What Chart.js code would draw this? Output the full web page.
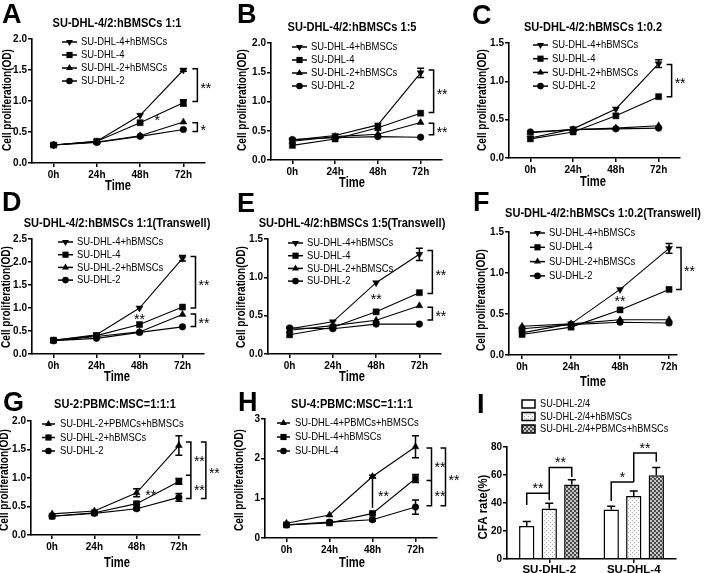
<!DOCTYPE html>
<html>
<head>
<meta charset="utf-8">
<script src="https://cdn.jsdelivr.net/npm/chart.js@4.4.0/dist/chart.umd.min.js"></script>
<style>
  html, body { margin: 0; padding: 0; background: #fff; }
  #wrap { position: relative; width: 709px; height: 573px; overflow: hidden; }
  #wrap canvas { position: absolute; left: 0; top: 0; }
</style>
</head>
<body>
<div id="wrap"></div>
<script>
// ---- data ----
const hours = [0, 24, 48, 72];
const timeLabels = ['0h', '24h', '48h', '72h'];
const names4 = ['SU-DHL-4+hBMSCs', 'SU-DHL-4', 'SU-DHL-2+hBMSCs', 'SU-DHL-2'];
const namesG = ['SU-DHL-2+PBMCs+hBMSCs', 'SU-DHL-2+hBMSCs', 'SU-DHL-2'];
const namesH = ['SU-DHL-4+PBMCs+hBMSCs', 'SU-DHL-4+hBMSCs', 'SU-DHL-4'];

const yTicks2 = [0, 0.5, 1.0, 1.5, 2.0];
const yTicks15 = [0, 0.5, 1.0, 1.5];
const yTicks25 = [0, 0.5, 1.0, 1.5, 2.0, 2.5];
const yTicks3 = [0, 1, 2, 3];
const yTicksCfa = [0, 20, 40, 60, 80];

// A  SU-DHL-4/2:hBMSCs 1:1
const a_dhl4b = [0.29, 0.35, 0.77, 1.50];
const a_dhl4 = [0.29, 0.35, 0.65, 0.97];
const a_dhl2b = [0.29, 0.34, 0.44, 0.66];
const a_dhl2 = [0.29, 0.33, 0.43, 0.54];
const a_err4b = [0, 0, 0, 0.02];
const a_err4 = [0, 0, 0, 0.05];

// B  1:5
const b_dhl4b = [0.34, 0.42, 0.60, 1.49];
const b_dhl4 = [0.25, 0.36, 0.55, 0.80];
const b_dhl2b = [0.32, 0.40, 0.44, 0.64];
const b_dhl2 = [0.35, 0.38, 0.40, 0.39];
const b_err4b = [0, 0, 0, 0.08];

// C  1:0.2
const c_dhl4b = [0.26, 0.38, 0.64, 1.23];
const c_dhl4 = [0.25, 0.34, 0.55, 0.80];
const c_dhl2b = [0.33, 0.37, 0.39, 0.42];
const c_dhl2 = [0.34, 0.37, 0.38, 0.39];
const c_err4b = [0, 0, 0, 0.05];

// D  1:1 (Transwell)
const d_dhl4b = [0.30, 0.42, 1.00, 2.08];
const d_dhl4 = [0.30, 0.40, 0.64, 1.02];
const d_dhl2b = [0.29, 0.38, 0.48, 0.86];
const d_dhl2 = [0.29, 0.34, 0.47, 0.59];
const d_err4b = [0, 0, 0, 0.06];

// E  1:5 (Transwell)
const e_dhl4b = [0.33, 0.42, 0.93, 1.30];
const e_dhl4 = [0.25, 0.35, 0.55, 0.80];
const e_dhl2b = [0.31, 0.37, 0.44, 0.63];
const e_dhl2 = [0.34, 0.33, 0.39, 0.39];
const e_err4b = [0, 0, 0, 0.08];

// F  1:0.2 (Transwell)
const f_dhl4b = [0.27, 0.38, 0.80, 1.30];
const f_dhl4 = [0.25, 0.34, 0.55, 0.80];
const f_dhl2b = [0.35, 0.38, 0.43, 0.43];
const f_dhl2 = [0.32, 0.37, 0.40, 0.39];
const f_err4b = [0, 0, 0, 0.06];

// G  SU-2:PBMC:MSC=1:1:1
const g_tri = [0.37, 0.42, 0.74, 1.57];
const g_msc = [0.33, 0.39, 0.55, 0.94];
const g_base = [0.33, 0.38, 0.46, 0.66];
const g_errTri = [0, 0, 0.07, 0.17];
const g_errMsc = [0, 0, 0.02, 0.05];
const g_errBase = [0, 0, 0.02, 0.07];

// H  SU-4:PBMC:MSC=1:1:1
const h_tri = [0.37, 0.58, 1.55, 2.30];
const h_msc = [0.33, 0.38, 0.62, 1.50];
const h_base = [0.33, 0.40, 0.46, 0.78];
const h_errTri = [0, 0, 0.03, 0.28];
const h_errMsc = [0, 0, 0.03, 0.10];
const h_errBase = [0, 0, 0.03, 0.18];

// I  CFA rate
const cfaGroups = ['SU-DHL-2', 'SU-DHL-4'];
const cfaNames = ['SU-DHL-2/4', 'SU-DHL-2/4+hBMSCs', 'SU-DHL-2/4+PBMCs+hBMSCs'];
const cfaBase = [23.6, 35.3];
const cfaMsc = [36.0, 45.0];
const cfaTri = [53.2, 59.8];
const cfaBaseErr = [3.2, 2.4];
const cfaMscErr = [3.8, 3.6];
const cfaTriErr = [3.4, 5.5];

// ---- helpers ----
const wrap = document.getElementById('wrap');
const FONT = '"Liberation Sans", Arial, Helvetica, sans-serif';

function txt(ctx, s, x, y, o) {
  o = o || {};
  ctx.save();
  ctx.translate(x, y);
  if (o.rot) ctx.rotate(o.rot);
  ctx.scale(o.sx || 1, 1);
  ctx.font = (o.bold ? 'bold ' : '') + (o.size || 11) + 'px ' + FONT;
  ctx.textAlign = o.align || 'center';
  ctx.textBaseline = o.base || 'middle';
  ctx.fillStyle = '#000';
  ctx.fillText(s, 0, 0);
  ctx.restore();
}

function drawMark(ctx, kind, x, y, r) {
  ctx.beginPath();
  if (kind === 'circle') {
    ctx.arc(x, y, r, 0, Math.PI * 2);
  } else if (kind === 'rect') {
    const h = r * 0.72;
    ctx.rect(x - h, y - h, 2 * h, 2 * h);
  } else {
    const s = kind === 'down' ? -1 : 1;
    ctx.moveTo(x, y - s * r);
    ctx.lineTo(x + r * 0.87, y + s * r * 0.5);
    ctx.lineTo(x - r * 0.87, y + s * r * 0.5);
    ctx.closePath();
  }
  ctx.fill();
}

function newCanvas() {
  const c = document.createElement('canvas');
  c.width = 709;
  c.height = 573;
  wrap.appendChild(c);
  return c;
}

function axisStyle() {
  return {
    grid: { drawOnChartArea: false, drawTicks: true, tickLength: 4, color: '#000', lineWidth: 1.5, offset: false },
    border: { color: '#000', width: 1.6 },
  };
}

const tickFont = { family: FONT, size: 10, weight: 'bold' };

// marker kinds: [chart pointStyle, rotation, radius, legend kind]
const marks4 = [['triangle', 180, 4, 'down'], ['rect', 0, 4.3, 'rect'], ['triangle', 0, 4, 'up'], ['circle', 0, 3.3, 'circle']];
const marks3 = [['triangle', 0, 4, 'up'], ['rect', 0, 4.3, 'rect'], ['circle', 0, 3.3, 'circle']];

function decoPlugin(p) {
  return {
    id: 'deco',
    afterDatasetsDraw(chart) {
      const ctx = chart.ctx, xs = chart.scales.x, ys = chart.scales.y;
      ctx.save();
      ctx.strokeStyle = '#000';
      ctx.fillStyle = '#000';
      ctx.lineWidth = 1.5;

      // error bars
      p.series.forEach((d, i) => {
        const err = p.errs[i];
        if (!err) return;
        const meta = chart.getDatasetMeta(i);
        err.forEach((e, k) => {
          if (!e) return;
          const x = meta.data[k].x;
          const y1 = ys.getPixelForValue(d[k] + e), y2 = ys.getPixelForValue(d[k] - e);
          ctx.beginPath();
          ctx.moveTo(x, y1); ctx.lineTo(x, y2);
          ctx.moveTo(x - 3.5, y1); ctx.lineTo(x + 3.5, y1);
          ctx.moveTo(x - 3.5, y2); ctx.lineTo(x + 3.5, y2);
          ctx.stroke();
        });
      });

      // brackets right of the last time point
      const xEnd = xs.getPixelForValue(hours[hours.length - 1]);
      (p.brackets || []).forEach(b => {
        const x = xEnd + b.dx;
        const yH = ys.getPixelForValue(b.hi), yL = ys.getPixelForValue(b.lo);
        ctx.beginPath();
        ctx.moveTo(x - 5, yH); ctx.lineTo(x, yH); ctx.lineTo(x, yL); ctx.lineTo(x - 5, yL);
        if (b.mid != null) {
          const yM = ys.getPixelForValue(b.mid);
          ctx.moveTo(x - 5, yM); ctx.lineTo(x, yM);
          ctx.stroke();
          txt(ctx, b.text, x + 3, (yH + yM) / 2 + 4, { size: 14, align: 'left' });
          txt(ctx, b.text, x + 3, (yM + yL) / 2 + 4, { size: 14, align: 'left' });
        } else {
          ctx.stroke();
          txt(ctx, b.text, x + 3, (yH + yL) / 2 + 4, { size: 14, align: 'left' });
        }
      });

      // notes near the 48h points
      (p.notes || []).forEach(n => {
        const x = xs.getPixelForValue(n.x) + n.dx, y = ys.getPixelForValue(n.v);
        if (n.line) {
          const y1 = ys.getPixelForValue(n.line[0]), y2 = ys.getPixelForValue(n.line[1]);
          ctx.beginPath();
          ctx.moveTo(xs.getPixelForValue(n.x), y1);
          ctx.lineTo(xs.getPixelForValue(n.x), y2);
          ctx.stroke();
        }
        txt(ctx, n.text, x, y + 4, { size: 14 });
      });

      // legend
      const lg = p.legend;
      p.names.forEach((name, i) => {
        const y = lg.y + i * lg.dy;
        ctx.beginPath();
        ctx.moveTo(lg.x, y); ctx.lineTo(lg.x + lg.len, y);
        ctx.stroke();
        drawMark(ctx, p.marks[i][3], lg.x + lg.len / 2, y, p.marks[i][2]);
        txt(ctx, name, lg.tx, y, { size: 11.5, sx: 0.82, align: 'left' });
      });

      // texts
      txt(ctx, p.letter, p.letterPos[0], p.letterPos[1], { size: 27, bold: true, align: 'left', base: 'alphabetic' });
      txt(ctx, p.title, p.titlePos[0], p.titlePos[1], { size: 13, bold: true, sx: 0.85 });
      txt(ctx, 'Cell proliferation(OD)', p.yTitlePos[0], p.yTitlePos[1], { size: 12, bold: true, sx: 0.84, rot: -Math.PI / 2 });
      txt(ctx, 'Time', p.xTitlePos[0], p.xTitlePos[1], { size: 14, bold: true, sx: 0.8 });
      ctx.restore();
    }
  };
}

function lineChart(p) {
  const canvas = newCanvas();
  const datasets = p.series.map((d, i) => ({
    label: p.names[i],
    data: d.map((v, k) => ({ x: hours[k], y: v })),
    borderColor: '#000',
    backgroundColor: '#000',
    borderWidth: 1.1,
    pointStyle: p.marks[i][0],
    rotation: p.marks[i][1],
    pointRadius: p.marks[i][2],
    pointBorderWidth: 0.5,
    tension: 0,
    clip: false,
  }));
  const AW = 30, AH = 22;
  new Chart(canvas, {
    type: 'line',
    data: { datasets },
    options: {
      responsive: false,
      animation: false,
      devicePixelRatio: 1,
      events: [],
      layout: { padding: { left: p.area[0] - AW, right: 709 - p.area[1], top: p.area[2], bottom: 573 - p.area[3] - AH } },
      plugins: { legend: { display: false }, title: { display: false }, tooltip: { enabled: false } },
      scales: {
        x: Object.assign(axisStyle(), {
          type: 'linear',
          min: p.xRange[0], max: p.xRange[1],
          afterBuildTicks: s => { s.ticks = hours.map(v => ({ value: v })); },
          afterFit: s => { s.height = AH; },
          ticks: { color: '#000', font: tickFont, padding: 2, maxRotation: 0, autoSkip: false,
                   callback: v => timeLabels[hours.indexOf(v)] },
        }),
        y: Object.assign(axisStyle(), {
          min: 0, max: p.yTicks[p.yTicks.length - 1],
          afterBuildTicks: s => { s.ticks = p.yTicks.map(v => ({ value: v })); },
          afterFit: s => { s.width = AW; },
          ticks: { color: '#000', font: tickFont, padding: 1, callback: v => v.toFixed(p.dec) },
        }),
      },
    },
    plugins: [decoPlugin(p)],
  });
}

// ---- panels A-H ----
lineChart({
  letter: 'A', letterPos: [2, 23], title: 'SU-DHL-4/2:hBMSCs 1:1', titlePos: [117, 23],
  yTitlePos: [8, 100], xTitlePos: [118, 186],
  area: [32, 205, 39, 163], xRange: [-12, 84], yTicks: yTicks2, dec: 1,
  names: names4, marks: marks4,
  series: [a_dhl4b, a_dhl4, a_dhl2b, a_dhl2], errs: [a_err4b, a_err4],
  legend: { x: 62, y: 42, dy: 13, len: 15, tx: 81 },
  brackets: [{ hi: 1.52, lo: 0.99, text: '**', dx: 14 }, { hi: 0.65, lo: 0.51, text: '*', dx: 14 }],
  notes: [{ x: 48, v: 0.74, text: '*', dx: 17 }],
});

lineChart({
  letter: 'B', letterPos: [237, 23], title: 'SU-DHL-4/2:hBMSCs 1:5', titlePos: [352, 27],
  yTitlePos: [243, 100], xTitlePos: [352, 183],
  area: [271, 442, 43, 160], xRange: [-12, 84], yTicks: yTicks2, dec: 1,
  names: names4, marks: marks4,
  series: [b_dhl4b, b_dhl4, b_dhl2b, b_dhl2], errs: [b_err4b],
  legend: { x: 292, y: 47, dy: 13, len: 15, tx: 311 },
  brackets: [{ hi: 1.54, lo: 0.81, text: '**', dx: 13 }, { hi: 0.63, lo: 0.43, text: '**', dx: 13 }],
});

lineChart({
  letter: 'C', letterPos: [472, 24], title: 'SU-DHL-4/2:hBMSCs 1:0.2', titlePos: [593, 27],
  yTitlePos: [483, 100], xTitlePos: [593, 182],
  area: [509, 680, 43, 158], xRange: [-12, 84], yTicks: yTicks15, dec: 1,
  names: names4, marks: marks4,
  series: [c_dhl4b, c_dhl4, c_dhl2b, c_dhl2], errs: [c_err4b],
  legend: { x: 533, y: 45, dy: 13.7, len: 15, tx: 552 },
  brackets: [{ hi: 1.22, lo: 0.80, text: '**', dx: 13 }],
});

lineChart({
  letter: 'D', letterPos: [2, 211], title: 'SU-DHL-4/2:hBMSCs 1:1(Transwell)', titlePos: [117, 223],
  yTitlePos: [7, 297], xTitlePos: [117, 377],
  area: [32, 204, 239, 354], xRange: [-12, 84], yTicks: yTicks25, dec: 1,
  names: names4, marks: marks4,
  series: [d_dhl4b, d_dhl4, d_dhl2b, d_dhl2], errs: [d_err4b],
  legend: { x: 58, y: 242, dy: 12.7, len: 15, tx: 77 },
  brackets: [{ hi: 2.12, lo: 1.0, text: '**', dx: 13 }, { hi: 0.87, lo: 0.60, text: '**', dx: 13 }],
  notes: [{ x: 48, v: 0.82, text: '**', dx: 0 }],
});

lineChart({
  letter: 'E', letterPos: [237, 212], title: 'SU-DHL-4/2:hBMSCs 1:5(Transwell)', titlePos: [352, 223],
  yTitlePos: [242, 297], xTitlePos: [352, 377],
  area: [268, 441, 239, 354], xRange: [-12, 84], yTicks: yTicks15, dec: 1,
  names: names4, marks: marks4,
  series: [e_dhl4b, e_dhl4, e_dhl2b, e_dhl2], errs: [e_err4b],
  legend: { x: 288, y: 243, dy: 12.7, len: 15, tx: 307 },
  brackets: [{ hi: 1.35, lo: 0.79, text: '**', dx: 13 }, { hi: 0.61, lo: 0.445, text: '**', dx: 13 }],
  notes: [{ x: 48, v: 0.75, text: '**', dx: 0 }],
});

lineChart({
  letter: 'F', letterPos: [473, 211], title: 'SU-DHL-4/2:hBMSCs 1:0.2(Transwell)', titlePos: [603, 213],
  yTitlePos: [482, 300], xTitlePos: [593, 382],
  area: [509, 677, 232, 355], xRange: [-6.4, 75.9], yTicks: yTicks15, dec: 1,
  names: names4, marks: marks4,
  series: [f_dhl4b, f_dhl4, f_dhl2b, f_dhl2], errs: [f_err4b],
  legend: { x: 530, y: 233, dy: 14.3, len: 15, tx: 549 },
  brackets: [{ hi: 1.31, lo: 0.80, text: '**', dx: 12 }],
  notes: [{ x: 48, v: 0.69, text: '**', dx: 0 }],
});

lineChart({
  letter: 'G', letterPos: [3, 411], title: 'SU-2:PBMC:MSC=1:1:1', titlePos: [115, 404],
  yTitlePos: [5, 480], xTitlePos: [117, 563],
  area: [31, 200, 421, 535], xRange: [-12, 84], yTicks: yTicks2, dec: 1,
  names: namesG, marks: marks3,
  series: [g_tri, g_msc, g_base], errs: [g_errTri, g_errMsc, g_errBase],
  legend: { x: 42, y: 424, dy: 13.5, len: 13, tx: 60 },
  brackets: [{ hi: 1.63, mid: 1.05, lo: 0.64, text: '**', dx: 12 }, { hi: 1.63, lo: 0.64, text: '**', dx: 27 }],
  notes: [{ x: 48, v: 0.76, text: '**', dx: 14 }],
});

lineChart({
  letter: 'H', letterPos: [238, 411], title: 'SU-4:PBMC:MSC=1:1:1', titlePos: [352, 404],
  yTitlePos: [240, 480], xTitlePos: [352, 563],
  area: [265, 437, 419, 538], xRange: [-12, 84], yTicks: yTicks3, dec: 0,
  names: namesH, marks: marks3,
  series: [h_tri, h_msc, h_base], errs: [h_errTri, h_errMsc, h_errBase],
  legend: { x: 277, y: 423, dy: 14, len: 13, tx: 295 },
  brackets: [{ hi: 2.27, mid: 1.45, lo: 0.815, text: '**', dx: 16 }, { hi: 2.27, lo: 0.815, text: '**', dx: 30 }],
  notes: [{ x: 48, v: 1.12, text: '**', dx: 11, line: [1.49, 0.76] }],
});

// ---- panel I (bars) ----
function makePattern(kind) {
  const c = document.createElement('canvas');
  c.width = 4; c.height = 4;
  const g = c.getContext('2d');
  if (kind === 'dots') {
    g.fillStyle = '#fafafa'; g.fillRect(0, 0, 4, 4);
    g.fillStyle = '#b0b0b0'; g.fillRect(0, 0, 1, 1); g.fillRect(2, 2, 1, 1);
  } else {
    g.fillStyle = '#c4c4c4'; g.fillRect(0, 0, 4, 4);
    g.fillStyle = '#4a4a4a'; g.fillRect(0, 0, 2, 2); g.fillRect(2, 2, 2, 2);
  }
  return g.createPattern(c, 'repeat');
}

(function barChart() {
  const canvas = newCanvas();
  const fills = ['#fff', makePattern('dots'), makePattern('check')];
  const series = [cfaBase, cfaMsc, cfaTri];
  const errs = [cfaBaseErr, cfaMscErr, cfaTriErr];
  // significance: dataset a -> dataset b in group g, bracket level and leg ends (values)
  const sig = [
    { g: 0, a: 0, b: 1, level: 47, legA: 38.5, legB: 42, text: '**' },
    { g: 0, a: 1, b: 2, level: 65.3, legA: 47, legB: 58.5, text: '**' },
    { g: 1, a: 0, b: 1, level: 55, legA: 41.5, legB: 55, text: '*' },
    { g: 1, a: 1, b: 2, level: 75.8, legA: 55, legB: 69.4, text: '**' },
  ];
  const area = [507, 676, 447, 559];
  const AW = 30, AH = 18;
  const deco = {
    id: 'decoI',
    afterDatasetsDraw(chart) {
      const ctx = chart.ctx, ys = chart.scales.y;
      ctx.save();
      ctx.strokeStyle = '#000';
      ctx.fillStyle = '#000';
      ctx.lineWidth = 1.5;
      series.forEach((d, i) => {
        const meta = chart.getDatasetMeta(i);
        d.forEach((v, k) => {
          const x = meta.data[k].x, y0 = ys.getPixelForValue(v), y1 = ys.getPixelForValue(v + errs[i][k]);
          ctx.beginPath();
          ctx.moveTo(x, y0); ctx.lineTo(x, y1);
          ctx.moveTo(x - 4, y1); ctx.lineTo(x + 4, y1);
          ctx.stroke();
        });
      });
      sig.forEach(s => {
        const xa = chart.getDatasetMeta(s.a).data[s.g].x, xb = chart.getDatasetMeta(s.b).data[s.g].x;
        const yl = ys.getPixelForValue(s.level);
        ctx.beginPath();
        ctx.moveTo(xa, ys.getPixelForValue(s.legA)); ctx.lineTo(xa, yl);
        ctx.lineTo(xb, yl); ctx.lineTo(xb, ys.getPixelForValue(s.legB));
        ctx.stroke();
        txt(ctx, s.text, (xa + xb) / 2, yl - 4, { size: 14 });
      });
      // legend
      cfaNames.forEach((name, i) => {
        const y = 404 + i * 12.5;
        ctx.fillStyle = fills[i];
        ctx.fillRect(522, y - 4, 13, 8);
        ctx.strokeRect(522, y - 4, 13, 8);
        txt(ctx, name, 540, y, { size: 11.5, sx: 0.8, align: 'left' });
      });
      txt(ctx, 'I', 477, 413, { size: 27, bold: true, align: 'left', base: 'alphabetic' });
      txt(ctx, 'CFA rate(%)', 483, 507, { size: 13, bold: true, sx: 0.88, rot: -Math.PI / 2 });
      ctx.restore();
    }
  };
  new Chart(canvas, {
    type: 'bar',
    data: {
      labels: cfaGroups,
      datasets: series.map((d, i) => ({
        label: cfaNames[i], data: d, backgroundColor: fills[i],
        borderColor: '#000', borderWidth: 1.5, categoryPercentage: 0.8, barPercentage: 0.68,
      })),
    },
    options: {
      responsive: false,
      animation: false,
      devicePixelRatio: 1,
      events: [],
      layout: { padding: { left: area[0] - AW, right: 709 - area[1], top: area[2], bottom: 573 - area[3] - AH } },
      plugins: { legend: { display: false }, title: { display: false }, tooltip: { enabled: false } },
      scales: {
        x: Object.assign(axisStyle(), {
          afterFit: s => { s.height = AH; },
          ticks: { color: '#000', font: { family: FONT, size: 11.5, weight: 'bold' }, padding: 0, maxRotation: 0 },
        }),
        y: Object.assign(axisStyle(), {
          min: 0, max: 80,
          afterBuildTicks: s => { s.ticks = yTicksCfa.map(v => ({ value: v })); },
          afterFit: s => { s.width = AW; },
          ticks: { color: '#000', font: tickFont, padding: 1 },
        }),
      },
    },
    plugins: [deco],
  });
})();
</script>
</body>
</html>
